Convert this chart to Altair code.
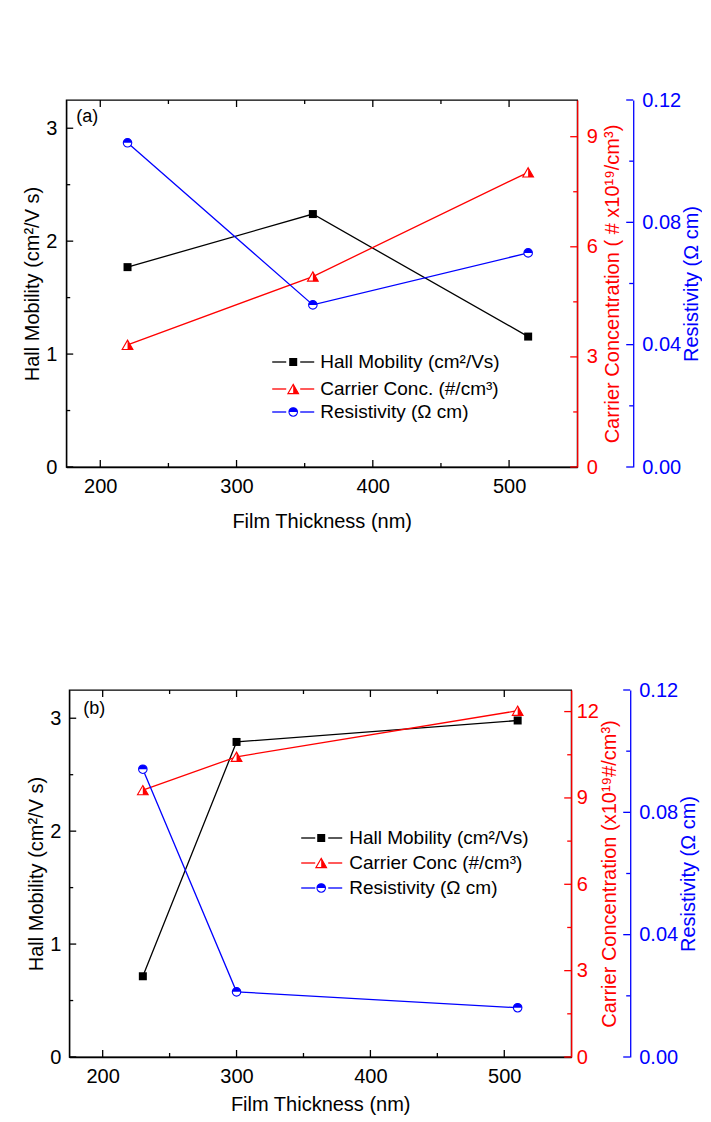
import altair as alt
import pandas as pd

FONT = "Liberation Sans"
RED = "#ff0000"
BLUE = "#0000ff"
BLACK = "#000000"
SERIES_COLORS = [BLACK, RED, BLUE]

# ---------------- data ----------------
A_THICKNESS = [220, 356, 514]
A_HALL = [1.77, 2.24, 1.155]
A_CARRIER = [3.33, 5.19, 8.03]
A_RESISTIVITY = [0.106, 0.053, 0.070]

B_THICKNESS = [230, 300, 510]
B_HALL = [0.715, 2.79, 2.98]
B_CARRIER = [9.27, 10.43, 12.03]
B_RESISTIVITY = [0.0941, 0.0213, 0.0161]

X_DOMAIN = [175, 550]
X_TICKS = [200, 250, 300, 350, 400, 450, 500]
HALL_DOMAIN = [0, 3.25]
HALL_TICKS = [0, 0.5, 1, 1.5, 2, 2.5, 3]
A_CARRIER_DOMAIN = [0, 10]
A_CARRIER_TICKS = [0, 1.5, 3, 4.5, 6, 7.5, 9]
B_CARRIER_DOMAIN = [0, 12.75]
B_CARRIER_TICKS = [0, 1.5, 3, 4.5, 6, 7.5, 9, 10.5, 12]
RESIST_DOMAIN = [0, 0.12]
RESIST_TICKS = [0, 0.02, 0.04, 0.06, 0.08, 0.10, 0.12]

X_TITLE = "Film Thickness (nm)"
HALL_TITLE = "Hall Mobility (cm²/V s)"
A_CARRIER_TITLE = "Carrier Concentration ( # x10¹⁹/cm³)"
B_CARRIER_TITLE = "Carrier Concentration (x10¹⁹#/cm³)"
RESIST_TITLE = "Resistivity (Ω cm)"
A_LEGEND = ["Hall Mobility (cm²/Vs)", "Carrier Conc. (#/cm³)", "Resistivity (Ω cm)"]
B_LEGEND = ["Hall Mobility (cm²/Vs)", "Carrier Conc (#/cm³)", "Resistivity (Ω cm)"]
A_TAG = "(a)"
B_TAG = "(b)"

# marker shapes (unit box)
TRI = "M0,-0.866L1,0.866L-1,0.866Z"
TRI_HALF = "M0,-0.866L1,0.866L0,0.866Z"
CIRC_HALF = "M-1,0A1,1,0,0,1,1,0Z"

X_TEST = "datum.t % 100 === 0"
HALL_TEST = "datum.t % 1 === 0"
CARRIER_TEST = "datum.t % 3 === 0"
RESIST_TEST = "round(datum.t * 100) % 4 === 0"

MAJOR = 7
MINOR = 4


def axis(orient, title, values, test, fmt, color=BLACK, label_pad=9.5,
         title_pad=4, offset=0, title_angle=None, title_baseline=None):
    test_v = test.replace("datum.t", "datum.value")
    kw = dict(
        orient=orient, title=title, values=values,
        labelExpr=f"({test_v}) ? format(datum.value, '{fmt}') : ''",
        ticks=False,
        labelPadding=label_pad, titlePadding=title_pad, offset=offset,
        domainColor=color, labelColor=color, titleColor=color,
        labelFontSize=20, titleFontSize=20, labelFont=FONT, titleFont=FONT,
        titleFontWeight="normal", grid=False, labelOverlap=False,
        labelFlush=False, domainWidth=1.3,
    )
    if title_angle is not None:
        kw["titleAngle"] = title_angle
    if title_baseline is not None:
        kw["titleBaseline"] = title_baseline
    return alt.Axis(**kw)


def marker_layers(chart, idx, x, y):
    if idx == 0:
        return [chart.mark_point(shape="square", filled=True, color=BLACK,
                                 size=64, opacity=1).encode(x=x, y=y)]
    if idx == 1:
        return [
            chart.mark_point(shape=TRI, filled=True, fill="white", stroke=RED,
                             strokeWidth=1.1, size=115, opacity=1).encode(x=x, y=y),
            chart.mark_point(shape=TRI_HALF, filled=True, color=RED,
                             size=115, opacity=1).encode(x=x, y=y),
        ]
    return [
        chart.mark_point(shape="circle", filled=True, fill="white", stroke=BLUE,
                         strokeWidth=1.1, size=72, opacity=1).encode(x=x, y=y),
        chart.mark_point(shape=CIRC_HALF, filled=True, color=BLUE,
                         size=72, opacity=1).encode(x=x, y=y),
    ]


def tick_layers(values, test, color, enc):
    """enc(length) -> dict of encodings; ticks drawn inward from an axis."""
    tdf = alt.Chart(pd.DataFrame({"t": values}))
    out = []
    for cond, length in ((test, MAJOR), (f"!({test})", MINOR)):
        out.append(tdf.transform_filter(cond).mark_rule(
            color=color, strokeWidth=1.3).encode(**enc(length)))
    return out


def panel(thk, hall, carrier, resist, carrier_domain, carrier_ticks,
          carrier_title, legend_labels, tag, g):
    w, h = g["w"], g["h"]
    df = pd.DataFrame({"thickness": thk, "hall": hall,
                       "carrier": carrier, "resistivity": resist})
    base = alt.Chart(df)
    xs = alt.Scale(domain=X_DOMAIN, nice=False, zero=False)
    x_axis = alt.X("thickness:Q", scale=xs,
                   axis=axis("bottom", X_TITLE, X_TICKS, X_TEST, "d",
                             label_pad=9.5, title_pad=g["xtp"]))
    x_plain = alt.X("thickness:Q", scale=xs, axis=None)
    xt = alt.X("t:Q", scale=xs, axis=None)

    layers = []
    fields = ["hall", "carrier", "resistivity"]
    domains = [HALL_DOMAIN, carrier_domain, RESIST_DOMAIN]
    axes = [
        axis("left", HALL_TITLE, HALL_TICKS, HALL_TEST, "d",
             label_pad=g["hlp"], title_pad=3),
        axis("right", carrier_title, carrier_ticks, CARRIER_TEST, "d",
             color=RED, label_pad=g["clp"], title_pad=g["ctp"],
             title_angle=270, title_baseline="top"),
        axis("right", RESIST_TITLE, RESIST_TICKS, RESIST_TEST, ".2f",
             color=BLUE, label_pad=g["blp"], title_pad=g["btp"], offset=g["boff"],
             title_angle=270, title_baseline="top"),
    ]
    scales = []
    for i, f in enumerate(fields):
        ys = alt.Scale(domain=domains[i], nice=False, zero=False)
        scales.append(ys)
        y_axis = alt.Y(f"{f}:Q", scale=ys, axis=axes[i])
        y_plain = alt.Y(f"{f}:Q", scale=ys, axis=None)
        layers.append(base.mark_line(color=SERIES_COLORS[i], strokeWidth=1.3).encode(
            x=x_axis if i == 0 else x_plain, y=y_axis))
        layers += marker_layers(base, i, x_plain, y_plain)

    # inward ticks drawn through the same scales
    layers += tick_layers(X_TICKS, X_TEST, BLACK, lambda L: dict(
        x=xt, y=alt.value(h), y2=alt.value(h - L)))
    layers += tick_layers(X_TICKS, X_TEST, BLACK, lambda L: dict(
        x=xt, y=alt.value(0), y2=alt.value(L)))
    layers += tick_layers(HALL_TICKS, HALL_TEST, BLACK, lambda L: dict(
        y=alt.Y("t:Q", scale=scales[0], axis=None), x=alt.value(0), x2=alt.value(L)))
    layers += tick_layers(carrier_ticks, CARRIER_TEST, RED, lambda L: dict(
        y=alt.Y("t:Q", scale=scales[1], axis=None), x=alt.value(w), x2=alt.value(w - L)))
    bx = w + g["boff"]
    layers += tick_layers(RESIST_TICKS, RESIST_TEST, BLUE, lambda L: dict(
        y=alt.Y("t:Q", scale=scales[2], axis=None), x=alt.value(bx), x2=alt.value(bx - L)))

    lx = g["legx"]
    for i, label in enumerate(legend_labels):
        ld = alt.Chart(pd.DataFrame({"label": [label]}))
        yv = alt.value(g["legy"][i])
        c = SERIES_COLORS[i]
        layers.append(ld.mark_rule(color=c, strokeWidth=1.3).encode(
            x=alt.value(lx[0]), x2=alt.value(lx[1]), y=yv))
        layers.append(ld.mark_rule(color=c, strokeWidth=1.3).encode(
            x=alt.value(lx[3]), x2=alt.value(lx[4]), y=yv))
        layers += marker_layers(ld, i, alt.value(lx[2]), yv)
        layers.append(ld.mark_text(align="left", baseline="middle", font=FONT,
                                   fontSize=19, color=BLACK).encode(
            x=alt.value(lx[5]), y=yv, text="label:N"))

    layers.append(alt.Chart(pd.DataFrame({"tag": [tag]})).mark_text(
        align="left", baseline="middle", font=FONT, fontSize=18, color=BLACK
    ).encode(x=alt.value(g["tag"][0]), y=alt.value(g["tag"][1]), text="tag:N"))

    return alt.layer(*layers).resolve_scale(y="independent").resolve_axis(
        x="independent", y="independent").properties(width=w, height=h)


GA = dict(w=511, h=367, xtp=15, hlp=9.4, clp=9, blp=8.5, ctp=5, btp=0.5, boff=56,
          legx=[206, 220, 227, 234, 248, 254], legy=[262, 289, 312],
          tag=[10, 17])
GB = dict(w=502, h=367, xtp=8, hlp=8.3, clp=5, blp=8.5, ctp=1.5, btp=0.5, boff=59,
          legx=[232, 246, 252, 259, 273, 280], legy=[148, 173, 198],
          tag=[14, 19])

pa = panel(A_THICKNESS, A_HALL, A_CARRIER, A_RESISTIVITY, A_CARRIER_DOMAIN,
           A_CARRIER_TICKS, A_CARRIER_TITLE, A_LEGEND, A_TAG, GA)
pb = panel(B_THICKNESS, B_HALL, B_CARRIER, B_RESISTIVITY, B_CARRIER_DOMAIN,
           B_CARRIER_TICKS, B_CARRIER_TITLE, B_LEGEND, B_TAG, GB)

chart = alt.vconcat(pa, pb, spacing=146, center=True).properties(
    padding={"left": 14, "top": 81, "right": 0, "bottom": 0}
).configure(font=FONT).configure_view(stroke=BLACK, strokeWidth=1.3)

chart.save("out.html", embed_options={"renderer": "svg", "actions": False})
